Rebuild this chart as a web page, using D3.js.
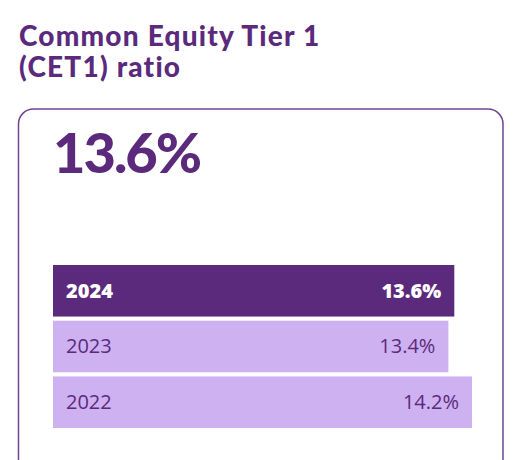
<!DOCTYPE html>
<html>
<head>
<meta charset="utf-8">
<script src="https://cdn.jsdelivr.net/npm/d3@7"></script>
<style>
  html, body { margin: 0; padding: 0; background: #ffffff; }
  svg { display: block; }
</style>
</head>
<body>
<div id="chart"></div>
<script>
// CET1 ratio by year
const YEARS = ["2024", "2023", "2022"];
const VALUES = [13.6, 13.4, 14.2];
const TITLE_LINES = ["Common Equity Tier 1", "(CET1) ratio"];
const HEADLINE = "13.6%";

const DARK = "#5b2a7c";
const LIGHT = "#ceb1f1";

const width = 518, height = 460;

const svg = d3.select("#chart").append("svg")
  .attr("width", width)
  .attr("height", height);

// title
svg.append("g").selectAll("text")
  .data(TITLE_LINES)
  .join("text")
  .attr("x", 19)
  .attr("y", (d, i) => 46 + i * 31)
  .style("font-family", "Lato, 'Open Sans', sans-serif")
  .style("font-weight", "900")
  .style("font-size", "28px")
  .style("letter-spacing", "1.2px")
  .style("fill", DARK)
  .text(d => d);

// card outline
svg.append("rect")
  .attr("x", 18.5)
  .attr("y", 109)
  .attr("width", 484.5)
  .attr("height", 400)
  .attr("rx", 15)
  .attr("fill", "none")
  .attr("stroke", "#6f4592")
  .attr("stroke-width", 1.5);

// headline number
svg.append("text")
  .attr("x", 53)
  .attr("y", 173)
  .style("font-family", "Lato, 'Open Sans', sans-serif")
  .style("font-weight", "900")
  .style("font-size", "56px")
  .style("letter-spacing", "-2px")
  .style("fill", DARK)
  .text(HEADLINE);

// bars
const margin = { left: 53, top: 265 };
const x = d3.scaleLinear().domain([0, 14.2]).range([0, 419]);
const y = d3.scaleBand().domain(YEARS).range([0, 163]).paddingInner(0.075).paddingOuter(0);

const rows = YEARS.map((yr, i) => ({ year: yr, value: VALUES[i], current: i === 0 }));

const g = svg.append("g").attr("transform", `translate(${margin.left},${margin.top})`);

const row = g.selectAll("g.row")
  .data(rows)
  .join("g")
  .attr("class", "row")
  .attr("transform", d => `translate(0,${y(d.year)})`);

row.append("rect")
  .attr("x", 0)
  .attr("y", 0)
  .attr("width", d => x(d.value))
  .attr("height", y.bandwidth())
  .attr("fill", d => d.current ? DARK : LIGHT);

row.append("text")
  .attr("x", 13)
  .attr("y", y.bandwidth() / 2)
  .attr("dy", "0.35em")
  .style("font-family", "'Open Sans', sans-serif")
  .style("font-size", "20px")
  .style("font-weight", d => d.current ? "800" : "400")
  .style("fill", d => d.current ? "#ffffff" : DARK)
  .text(d => d.year);

row.append("text")
  .attr("x", d => x(d.value) - 13)
  .attr("y", y.bandwidth() / 2)
  .attr("dy", "0.35em")
  .attr("text-anchor", "end")
  .style("font-family", "'Open Sans', sans-serif")
  .style("font-size", "20px")
  .style("font-weight", d => d.current ? "800" : "400")
  .style("fill", d => d.current ? "#ffffff" : DARK)
  .text(d => d.value.toFixed(1) + "%");
</script>
</body>
</html>
